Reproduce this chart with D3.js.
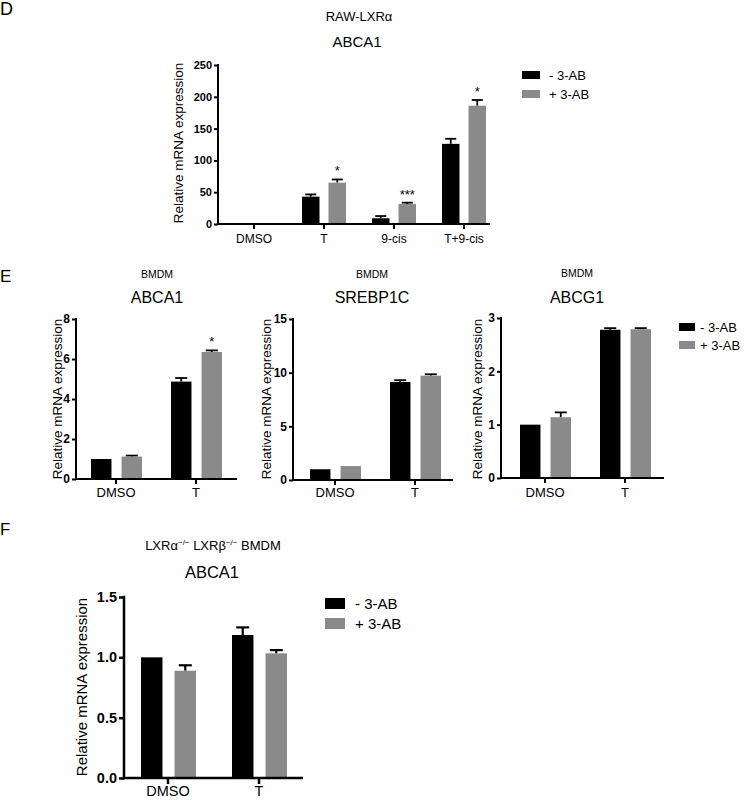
<!DOCTYPE html>
<html>
<head>
<meta charset="utf-8">
<script src="https://cdn.jsdelivr.net/npm/d3@7"></script>
<style>
  html, body { margin: 0; padding: 0; background: #fff; }
  svg { display: block; font-family: "Liberation Sans", Arial, Helvetica, sans-serif; }
</style>
</head>
<body>
<svg id="chart" width="745" height="800"></svg>
<script>
// ---------------- DATA ----------------
const seriesNames = ["- 3-AB", "+ 3-AB"];
const seriesColors = ["#000000", "#8a8a8a"];

// Panel D: RAW-LXRα, ABCA1
const categoriesD = ["DMSO", "T", "9-cis", "T+9-cis"];
const dMinus = [1, 43, 9, 126];
const dMinusErr = [0, 3.5, 3.5, 8];
const dPlus = [0.8, 65, 31.5, 186];
const dPlusErr = [0, 5, 2, 9];
const dStars = ["", "*", "***", "*"];
const ticksD = [0, 50, 100, 150, 200, 250];

// Panel E: BMDM
const categoriesE = ["DMSO", "T"];
const eAbca1Minus = [1.0, 4.87];
const eAbca1MinusErr = [0, 0.18];
const eAbca1Plus = [1.12, 6.35];
const eAbca1PlusErr = [0.05, 0.08];
const eAbca1Stars = ["", "*"];
const ticksEAbca1 = [0, 2, 4, 6, 8];

const eSrebpMinus = [1.0, 9.13];
const eSrebpMinusErr = [0, 0.17];
const eSrebpPlus = [1.3, 9.72];
const eSrebpPlusErr = [0, 0.13];
const ticksESrebp = [0, 5, 10, 15];

const eAbcg1Minus = [1.0, 2.78];
const eAbcg1MinusErr = [0, 0.03];
const eAbcg1Plus = [1.14, 2.79];
const eAbcg1PlusErr = [0.09, 0.02];
const ticksEAbcg1 = [0, 1, 2, 3];

// Panel F: LXRα-/- LXRβ-/- BMDM, ABCA1
const categoriesF = ["DMSO", "T"];
const fMinus = [1.0, 1.185];
const fMinusErr = [0, 0.063];
const fPlus = [0.889, 1.033];
const fPlusErr = [0.045, 0.027];
const ticksF = [0, 0.5, 1.0, 1.5];

const yLabel = "Relative mRNA expression";

// ---------------- DRAWING ----------------
const svg = d3.select("#chart");

function panel(o) {
  const g = svg.append("g");
  const y = d3.scaleLinear().domain([0, o.ticks[o.ticks.length - 1]]).range([o.y0, o.yTop]);
  const start = o.c0 - o.step / 2;
  const x0 = d3.scaleBand().domain(o.categories).range([start, start + o.step * o.categories.length]);
  const x1 = d3.scaleBand().domain(seriesNames).range(o.inner).paddingInner(o.pad);
  const center = c => x0(c) + x0.bandwidth() / 2;

  const series = [
    { name: seriesNames[0], vals: o.minus, errs: o.minusErr, color: seriesColors[0] },
    { name: seriesNames[1], vals: o.plus, errs: o.plusErr, color: seriesColors[1] }
  ];

  series.forEach(s => {
    const data = o.categories.map((c, i) => ({ c, v: s.vals[i], e: s.errs[i] }));
    const eg = g.append("g");
    data.filter(d => d.e > 0).forEach(d => {
      const cx = center(d.c) + x1(s.name) + x1.bandwidth() / 2;
      const top = y(d.v + d.e);
      eg.append("line").attr("x1", cx).attr("x2", cx)
        .attr("y1", y(d.v)).attr("y2", top)
        .attr("stroke", "#000").attr("stroke-width", o.errW);
      eg.append("line").attr("x1", cx - o.cap / 2).attr("x2", cx + o.cap / 2)
        .attr("y1", top).attr("y2", top)
        .attr("stroke", "#000").attr("stroke-width", o.errW);
    });
    g.append("g").selectAll("rect").data(data).join("rect")
      .attr("x", d => center(d.c) + x1(s.name))
      .attr("width", x1.bandwidth())
      .attr("y", d => y(d.v))
      .attr("height", d => o.y0 - y(d.v))
      .attr("fill", s.color);
  });

  if (o.stars) {
    g.append("g").selectAll("text").data(o.categories.map((c, i) => ({ c, s: o.stars[i], v: o.plus[i] + o.plusErr[i] })))
      .join("text")
      .attr("x", d => center(d.c) + x1(seriesNames[1]) + x1.bandwidth() / 2)
      .attr("y", d => y(d.v) - 4)
      .attr("text-anchor", "middle")
      .attr("font-size", o.starSize)
      .text(d => d.s);
  }

  const ya = g.append("g").attr("transform", `translate(${o.ax},0)`)
    .call(d3.axisLeft(y).tickValues(o.ticks).tickSize(o.tickLen).tickSizeOuter(0).tickPadding(2).tickFormat(o.fmt));
  ya.select(".domain").attr("stroke-width", o.lineW).attr("d", `M0,${o.y0 + o.lineW / 2}V${o.yTop - o.lineW / 2}`);
  ya.selectAll(".tick line").attr("stroke-width", o.lineW);
  ya.selectAll(".tick text").attr("font-size", o.tickFont).attr("font-weight", "bold")
    .attr("font-family", "'Liberation Sans', Arial, sans-serif").attr("fill", "#000");

  g.append("line").attr("x1", o.ax - o.lineW / 2).attr("x2", o.axEnd)
    .attr("y1", o.y0).attr("y2", o.y0).attr("stroke", "#000").attr("stroke-width", o.lineW);
  const xa = g.append("g").attr("transform", `translate(0,${o.y0})`)
    .call(d3.axisBottom(x0).tickSize(o.tickLen + 1).tickSizeOuter(0));
  xa.select(".domain").remove();
  xa.selectAll(".tick line").attr("stroke-width", o.lineW);
  xa.selectAll(".tick text").attr("font-size", o.xFont).attr("dy", null).attr("y", o.xBase - o.y0)
    .attr("font-family", "'Liberation Sans', Arial, sans-serif").attr("fill", "#000");

  g.append("text").attr("transform", `translate(${o.ylX},${o.ylY}) rotate(-90)`)
    .attr("text-anchor", "middle").attr("font-size", o.ylFont).text(yLabel);

  if (o.legend) {
    const L = o.legend;
    series.forEach((s, i) => {
      g.append("rect").attr("x", L.x).attr("y", L.ys[i]).attr("width", L.w).attr("height", L.h).attr("fill", s.color);
      g.append("text").attr("x", L.tx).attr("y", L.ys[i] + L.h / 2).attr("dy", "0.35em")
        .attr("font-size", L.font).text(s.name);
    });
  }
}

function text(x, y, str, size, anchor) {
  return svg.append("text").attr("x", x).attr("y", y).attr("font-size", size)
    .attr("text-anchor", anchor || "middle").text(str);
}

// ---- Panel D ----
text(0, 15, "D", 18, "start");
text(359, 21, "RAW-LXRα", 13);
text(357, 46.5, "ABCA1", 15);
panel({
  categories: categoriesD, minus: dMinus, minusErr: dMinusErr, plus: dPlus, plusErr: dPlusErr,
  stars: dStars, ticks: ticksD, fmt: d3.format("d"),
  ax: 218, axEnd: 490, y0: 224, yTop: 65, c0: 254, step: 70, inner: [-22, 22], pad: 0.34,
  lineW: 2, tickLen: 4, tickFont: 11, xFont: 12, xBase: 243, errW: 1.8, cap: 11, starSize: 13,
  ylX: 183, ylY: 143, ylFont: 13.5,
  legend: { x: 522, ys: [71, 90], w: 18, h: 8, tx: 549, font: 13 }
});

// ---- Panel E ----
text(0, 282, "E", 17, "start");
text(157, 278, "BMDM", 10.5);
text(157, 302.5, "ABCA1", 16);
text(372, 278, "BMDM", 10.5);
text(372, 302.5, "SREBP1C", 16);
text(577, 277, "BMDM", 10.5);
text(577, 302.5, "ABCG1", 16);

const eCommon = {
  categories: categoriesE, fmt: d3.format("d"), step: 80, inner: [-25, 26], pad: 0.33,
  lineW: 2, tickLen: 4, tickFont: 12, xFont: 13, xBase: 496.5, errW: 1.8, cap: 12, starSize: 13,
  ylFont: 13.5, ylY: 399
};
panel(Object.assign({}, eCommon, {
  minus: eAbca1Minus, minusErr: eAbca1MinusErr, plus: eAbca1Plus, plusErr: eAbca1PlusErr,
  stars: eAbca1Stars, ticks: ticksEAbca1,
  ax: 76, axEnd: 237, y0: 479, yTop: 319, c0: 116, ylX: 62
}));
panel(Object.assign({}, eCommon, {
  minus: eSrebpMinus, minusErr: eSrebpMinusErr, plus: eSrebpPlus, plusErr: eSrebpPlusErr,
  ticks: ticksESrebp,
  ax: 293, axEnd: 453, y0: 480, yTop: 319, c0: 335, ylX: 270.5
}));
panel(Object.assign({}, eCommon, {
  minus: eAbcg1Minus, minusErr: eAbcg1MinusErr, plus: eAbcg1Plus, plusErr: eAbcg1PlusErr,
  ticks: ticksEAbcg1,
  ax: 501, axEnd: 664, y0: 478, yTop: 318, c0: 545, ylX: 482,
  legend: { x: 679, ys: [323, 341], w: 16, h: 8, tx: 700, font: 13 }
}));

// ---- Panel F ----
text(0, 535, "F", 17, "start");
const fTitle = svg.append("text").attr("x", 213).attr("y", 549.5).attr("font-size", 13).attr("text-anchor", "middle");
fTitle.append("tspan").text("LXRα");
fTitle.append("tspan").attr("dy", -5).attr("font-size", 8).text("−/−");
fTitle.append("tspan").attr("dy", 5).text(" LXRβ");
fTitle.append("tspan").attr("dy", -5).attr("font-size", 8).text("−/−");
fTitle.append("tspan").attr("dy", 5).text(" BMDM");
text(212, 577.5, "ABCA1", 16.5);
panel({
  categories: categoriesF, minus: fMinus, minusErr: fMinusErr, plus: fPlus, plusErr: fPlusErr,
  ticks: ticksF, fmt: d3.format(".1f"),
  ax: 124, axEnd: 303, y0: 778, yTop: 597, c0: 168, step: 91, inner: [-27, 28], pad: 0.36,
  lineW: 2.5, tickLen: 5, tickFont: 14.5, xFont: 14.5, xBase: 796, errW: 2.2, cap: 13,
  ylX: 87, ylY: 687, ylFont: 15,
  legend: { x: 325, ys: [598, 618], w: 20, h: 11, tx: 355, font: 15 }
});
</script>
</body>
</html>
